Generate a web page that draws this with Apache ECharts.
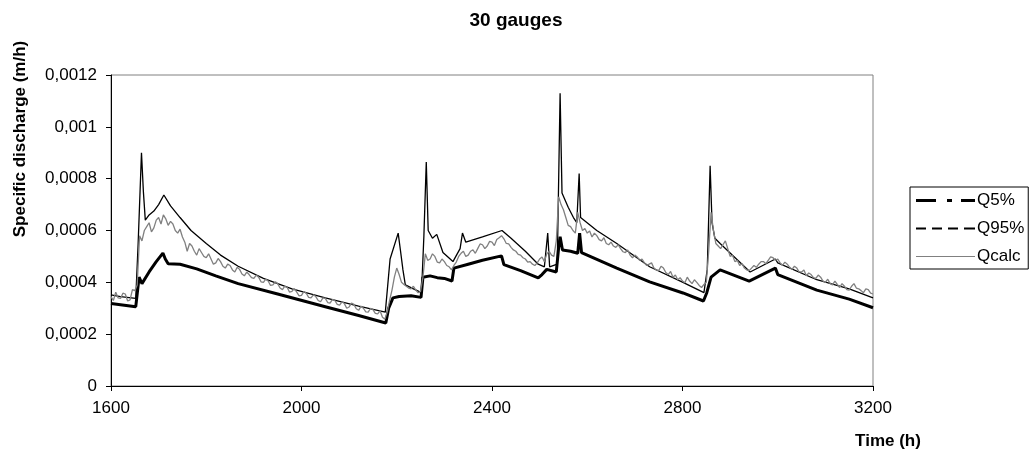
<!DOCTYPE html>
<html>
<head>
<meta charset="utf-8">
<script src="https://cdn.jsdelivr.net/npm/echarts@6/dist/echarts.min.js"></script>
<style>
html,body{margin:0;padding:0;background:#fff;}
#chart{width:1032px;height:462px;}
</style>
</head>
<body>
<div id="chart"></div>
<script>
// ---- data ----
var xTicks = [1600, 2000, 2400, 2800, 3200];
var yTicks = [0, 0.0002, 0.0004, 0.0006, 0.0008, 0.001, 0.0012];
var yTickLabels = ['0', '0,0002', '0,0004', '0,0006', '0,0008', '0,001', '0,0012'];

var q5Hours = [1600,1652,1655,1659,1665,1680,1695,1709,1714,1720,1745,1780,1820,1867,1950,2050,2120,2177,2183,2192,2205,2230,2251,2255,2270,2285,2300,2316,2320,2350,2380,2420,2425,2460,2497,2505,2515,2535,2540,2543,2548,2565,2580,2584,2588,2662,2731,2801,2844,2851,2860,2879,2940,2995,3000,3082,3150,3200];
var q5Values = [0.000318,0.000306,0.000306,0.00042,0.000395,0.00044,0.00048,0.000513,0.00049,0.000472,0.00047,0.000452,0.000425,0.000395,0.000355,0.000306,0.000272,0.000243,0.0003,0.00034,0.000345,0.000348,0.000342,0.00042,0.000425,0.000418,0.000415,0.000405,0.000455,0.00047,0.000485,0.000502,0.000468,0.000445,0.000417,0.00043,0.00045,0.00044,0.000535,0.000576,0.000525,0.00052,0.000512,0.00059,0.000515,0.000455,0.000402,0.000359,0.000328,0.00036,0.00042,0.000448,0.000405,0.000455,0.00043,0.00037,0.000335,0.000302];

var q95Hours = [1600,1620,1652,1657,1664,1668,1672,1680,1690,1700,1711,1725,1745,1768,1800,1830,1867,1920,1980,2050,2120,2176,2186,2203,2208,2213,2218,2235,2252,2257,2262,2266,2275,2284,2297,2318,2333,2338,2345,2380,2421,2440,2470,2497,2510,2517,2521,2537,2543,2547,2560,2571,2578,2583,2586,2620,2662,2731,2801,2845,2852,2858,2862,2868,2879,2942,2995,3000,3082,3150,3200];
var q95Values = [0.000352,0.000345,0.000338,0.00055,0.0009,0.00075,0.00064,0.00066,0.000675,0.0007,0.000737,0.000695,0.00065,0.0006,0.00055,0.000505,0.000462,0.000415,0.000375,0.00034,0.000308,0.000285,0.00049,0.00059,0.00052,0.000448,0.00039,0.000375,0.00036,0.00058,0.000864,0.0006,0.00057,0.000585,0.000515,0.00048,0.00053,0.00059,0.000555,0.000575,0.0006,0.00057,0.00052,0.00047,0.00046,0.00059,0.00046,0.00047,0.00113,0.000745,0.00069,0.00065,0.00063,0.00082,0.00065,0.0006,0.00055,0.00046,0.0004,0.00036,0.00045,0.00085,0.00063,0.00057,0.00055,0.00044,0.00049,0.000475,0.00041,0.000375,0.00034];

var qcalcHours = [
1600,1605,1610,1615,1620,1625,1630,1635,1640,1645,1650,1655,1660,1665,1670,1675,1680,1685,1690,1695,
1700,1705,1710,1715,1720,1725,1730,1735,1740,1745,1750,1755,1760,1765,1770,1775,1780,1785,1790,1795,
1800,1805,1810,1815,1820,1825,1830,1835,1840,1845,1850,1855,1860,1865,1870,1875,1880,1885,1890,1895,
1900,1905,1910,1915,1920,1925,1930,1935,1940,1945,1950,1955,1960,1965,1970,1975,1980,1985,1990,1995,
2000,2005,2010,2015,2020,2025,2030,2035,2040,2045,2050,2055,2060,2065,2070,2075,2080,2085,2090,2095,
2100,2105,2110,2115,2120,2125,2130,2135,2140,2145,2150,2155,2160,2165,2170,2175,2180,2185,2190,2195,
2200,2205,2210,2215,2220,2225,2230,2235,2240,2245,2250,2255,2260,2265,2270,2275,2280,2285,2290,2295,
2300,2305,2310,2315,2320,2325,2330,2335,2340,2345,2350,2355,2360,2365,2370,2375,2380,2385,2390,2395,
2400,2405,2410,2415,2420,2425,2430,2435,2440,2445,2450,2455,2460,2465,2470,2475,2480,2485,2490,2495,
2500,2505,2510,2515,2520,2525,2530,2535,2540,2545,2550,2555,2560,2565,2570,2575,2580,2585,2590,2595,
2600,2605,2610,2615,2620,2625,2630,2635,2640,2645,2650,2655,2660,2665,2670,2675,2680,2685,2690,2695,
2700,2705,2710,2715,2720,2725,2730,2735,2740,2745,2750,2755,2760,2765,2770,2775,2780,2785,2790,2795,
2800,2805,2810,2815,2820,2825,2830,2835,2840,2845,2850,2855,2860,2865,2870,2875,2880,2885,2890,2895,
2900,2905,2910,2915,2920,2925,2930,2935,2940,2945,2950,2955,2960,2965,2970,2975,2980,2985,2990,2995,
3000,3005,3010,3015,3020,3025,3030,3035,3040,3045,3050,3055,3060,3065,3070,3075,3080,3085,3090,3095,
3100,3105,3110,3115,3120,3125,3130,3135,3140,3145,3150,3155,3160,3165,3170,3175,3180,3185,3190,3195,
3200];
var qcalcValues = [
0.000345,0.00033,0.000362,0.00034,0.000338,0.000358,0.000355,0.000328,0.000332,0.000372,0.000368,0.00039,0.00058,0.00056,0.0006,0.000615,0.00063,0.000595,0.00061,0.00064,
0.00065,0.000625,0.00066,0.000645,0.00062,0.000635,0.000625,0.0006,0.00059,0.000605,0.000575,0.000555,0.00052,0.00055,0.00054,0.00052,0.000505,0.00053,0.000515,0.0005,
0.000495,0.00051,0.00049,0.00047,0.000475,0.000492,0.00048,0.000462,0.000455,0.00047,0.000465,0.000448,0.00044,0.000458,0.00045,0.000432,0.000425,0.00044,0.00043,0.000418,
0.000415,0.000428,0.00042,0.000402,0.0004,0.000412,0.000405,0.000388,0.00039,0.000402,0.000395,0.000378,0.000372,0.000385,0.00038,0.000362,0.000365,0.000376,0.000362,0.000348,
0.00035,0.000365,0.000358,0.000342,0.00034,0.000352,0.000345,0.00033,0.000325,0.00034,0.000338,0.000322,0.00032,0.000334,0.00033,0.000315,0.000312,0.000325,0.000318,0.0003,
0.000305,0.00032,0.000315,0.000298,0.000292,0.000308,0.0003,0.000286,0.000285,0.0003,0.000295,0.00028,0.000278,0.00029,0.000265,0.000258,0.000285,0.00033,0.00037,0.00042,
0.000455,0.00043,0.0004,0.000392,0.000385,0.000378,0.000375,0.000385,0.00037,0.00036,0.000365,0.00042,0.00051,0.000485,0.00049,0.00051,0.0005,0.000478,0.000475,0.00049,
0.00048,0.000465,0.00046,0.000448,0.000465,0.000478,0.0005,0.000512,0.00052,0.0005,0.000505,0.00052,0.000525,0.000512,0.00053,0.000548,0.000545,0.00053,0.00054,0.000558,
0.000555,0.000542,0.000565,0.000572,0.00058,0.000568,0.00055,0.000548,0.000535,0.000525,0.00052,0.000508,0.000505,0.000495,0.00049,0.000478,0.00048,0.00047,0.000465,0.000475,
0.00049,0.000498,0.00048,0.00051,0.00052,0.000505,0.0005,0.00056,0.00073,0.0007,0.00068,0.00065,0.00062,0.000615,0.0006,0.00059,0.00067,0.00063,0.0006,0.000608,
0.00059,0.000598,0.000575,0.00059,0.00058,0.000565,0.00056,0.000572,0.00055,0.000545,0.000555,0.00054,0.000535,0.000545,0.00053,0.000518,0.000515,0.000525,0.000505,0.000495,
0.000505,0.000498,0.000485,0.00049,0.000475,0.000465,0.00047,0.000475,0.000455,0.000448,0.000445,0.000462,0.000455,0.000438,0.00043,0.000442,0.00042,0.000428,0.00041,0.000418,
0.000405,0.000398,0.00042,0.000405,0.000395,0.00041,0.0004,0.000388,0.00038,0.000392,0.0004,0.00052,0.00067,0.0006,0.00055,0.00054,0.00053,0.000545,0.00056,0.00053,
0.0005,0.000505,0.00048,0.000485,0.000465,0.000472,0.000455,0.000448,0.000445,0.000455,0.000465,0.000458,0.00047,0.00048,0.00048,0.000472,0.000485,0.000498,0.000495,0.000485,
0.00049,0.000475,0.000465,0.000478,0.00047,0.000458,0.00045,0.000462,0.000455,0.00044,0.00044,0.000448,0.000425,0.000436,0.00043,0.000418,0.000415,0.000428,0.00042,0.000405,
0.0004,0.000412,0.000395,0.00039,0.000405,0.000392,0.00038,0.000395,0.000385,0.000372,0.00037,0.000385,0.000395,0.000378,0.000375,0.000368,0.00036,0.000375,0.000372,0.000358,
0.000355];

function pairs(xs, ys) {
  var out = [];
  var n = Math.min(xs.length, ys.length);
  for (var i = 0; i < n; i++) out.push([xs[i], ys[i]]);
  return out;
}
var yStep = yTicks[1] - yTicks[0];
function fmtY(v) {
  var idx = Math.round(v / yStep);
  return yTickLabels[idx] !== undefined ? yTickLabels[idx] : '';
}
function fmtX(v) { return String(Math.round(v)); }

var FONT = '"Liberation Sans", Arial, sans-serif';
var chart = echarts.init(document.getElementById('chart'), null, {renderer: 'canvas'});
chart.setOption({
  animation: false,
  backgroundColor: '#ffffff',
  textStyle: {fontFamily: FONT, color: '#000'},
  title: {
    text: '30 gauges',
    left: 'center',
    top: 6,
    textStyle: {fontFamily: FONT, fontSize: 19, fontWeight: 'bold', color: '#000'}
  },
  grid: {
    left: 111, top: 75, right: 159, bottom: 76,
    show: true, borderColor: '#808080', borderWidth: 1, backgroundColor: '#fff'
  },
  legend: {
    orient: 'vertical',
    left: 910, top: 187,
    padding: [5, 4, 4, 6],
    itemWidth: 59, itemHeight: 16, itemGap: 11,
    itemStyle: {borderWidth: 0},
    borderColor: '#000', borderWidth: 1,
    textStyle: {fontFamily: FONT, fontSize: 17, color: '#000', padding: [0, 0, 0, -3]},
    data: [
      {name: 'Q5%', icon: 'path://M0,0h20v3h-20z M31,0h5v3h-5z M45,0h14v3h-14z'},
      {name: 'Q95%', icon: 'path://M0,0h10v2h-10z M16,0h10v2h-10z M32,0h10v2h-10z M48,0h11v2h-11z'},
      {name: 'Qcalc', icon: 'path://M0,0h59v1h-59z'}
    ]
  },
  xAxis: {
    type: 'value',
    min: xTicks[0], max: xTicks[xTicks.length - 1], interval: xTicks[1] - xTicks[0],
    axisLine: {lineStyle: {color: '#000', width: 1}},
    axisTick: {show: true, inside: false, length: 5, lineStyle: {color: '#000'}},
    axisLabel: {fontFamily: FONT, fontSize: 17, color: '#000', margin: 14, formatter: fmtX},
    splitLine: {show: false}
  },
  yAxis: {
    type: 'value',
    min: yTicks[0], max: yTicks[yTicks.length - 1], interval: yStep,
    axisLine: {show: true, lineStyle: {color: '#000', width: 1}},
    axisTick: {show: true, inside: false, length: 5, lineStyle: {color: '#000'}},
    axisLabel: {fontFamily: FONT, fontSize: 17, color: '#000', margin: 14, formatter: fmtY},
    splitLine: {show: false}
  },
  graphic: [
    {
      type: 'text', x: 20, y: 139, rotation: Math.PI / 2,
      style: {text: 'Specific discharge (m/h)', font: 'bold 17px ' + FONT, fill: '#000', align: 'center', verticalAlign: 'middle'}
    },
    {
      type: 'text', x: 888, y: 441,
      style: {text: 'Time (h)', font: 'bold 17px ' + FONT, fill: '#000', align: 'center', verticalAlign: 'middle'}
    }
  ],
  series: [
    {
      name: 'Q5%', type: 'line', data: pairs(q5Hours, q5Values),
      showSymbol: false, symbol: 'none', color: '#000',
      itemStyle: {color: '#000'},
      lineStyle: {color: '#000', width: 3}, z: 2
    },
    {
      name: 'Q95%', type: 'line', data: pairs(q95Hours, q95Values),
      showSymbol: false, symbol: 'none', color: '#000',
      itemStyle: {color: '#000'},
      lineStyle: {color: '#000', width: 1.3}, z: 3
    },
    {
      name: 'Qcalc', type: 'line', data: pairs(qcalcHours, qcalcValues),
      showSymbol: false, symbol: 'none', color: '#808080',
      itemStyle: {color: '#808080'},
      lineStyle: {color: '#808080', width: 1.3}, z: 4
    }
  ]
});
</script>
</body>
</html>
